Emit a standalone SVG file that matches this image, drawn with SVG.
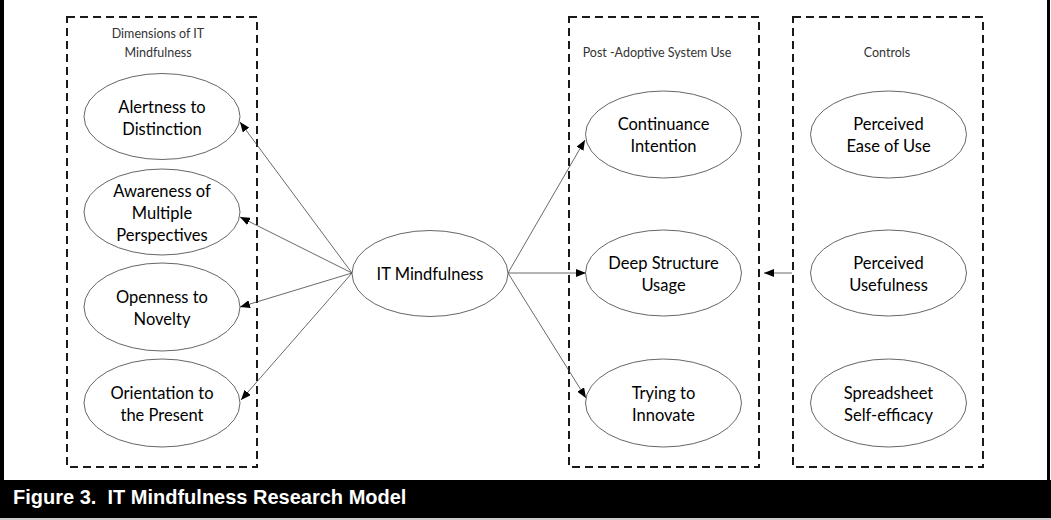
<svg xmlns="http://www.w3.org/2000/svg" width="1051" height="520" viewBox="0 0 1051 520">
<style>
.frame{fill:#000}
.box{fill:none;stroke:#1a1a1a;stroke-width:2;stroke-dasharray:8 5}
.node ellipse{fill:#fff;stroke:#555;stroke-width:0.9}
.lbl{font-family:Lato,"Open Sans",sans-serif;font-size:16.5px;fill:#000;text-anchor:middle}
.hdr{font-family:Lato,"Open Sans",sans-serif;font-size:12.5px;fill:#333;text-anchor:middle}
.edge{stroke:#444;stroke-width:0.8;fill:none;marker-end:url(#arr)}
.cap{font-family:"Liberation Sans",Arial,sans-serif;font-weight:bold;font-size:20px;fill:#fff;white-space:pre}
</style>
<defs>
<marker id="arr" markerUnits="userSpaceOnUse" markerWidth="10" markerHeight="8" refX="10" refY="4" orient="auto">
<path d="M0,0 L10,4 L0,8 z" fill="#000"/>
</marker>
</defs>
<rect x="0" y="0" width="1051" height="520" fill="#fff"/>
<rect class="frame" x="0" y="0" width="4" height="480"/>
<rect class="frame" x="1047" y="0" width="3" height="480"/>
<rect class="frame" x="0" y="480" width="1051" height="38"/>
<rect x="0" y="518" width="1051" height="2" fill="#ccc"/>
<text class="cap" x="13" y="504" xml:space="preserve">Figure 3.  IT Mindfulness Research Model</text>

<g id="groups">
<rect class="box" x="67" y="17" width="190" height="450"/>
<rect class="box" x="569" y="17" width="190" height="450"/>
<rect class="box" x="793" y="17" width="190" height="450"/>
<text class="hdr" x="158" y="38">Dimensions of IT</text>
<text class="hdr" x="158" y="57">Mindfulness</text>
<text class="hdr" x="657" y="57">Post -Adoptive System Use</text>
<text class="hdr" x="887" y="57">Controls</text>
</g>

<g id="connectors">
<line class="edge" x1="352" y1="273" x2="240" y2="122"/>
<line class="edge" x1="352" y1="273" x2="240" y2="217"/>
<line class="edge" x1="352" y1="273" x2="240" y2="307"/>
<line class="edge" x1="352" y1="273" x2="241" y2="400"/>
<line class="edge" x1="508" y1="273" x2="585" y2="140"/>
<line class="edge" x1="508" y1="273" x2="586" y2="273"/>
<line class="edge" x1="508" y1="273" x2="586" y2="398"/>
<line class="edge" x1="792" y1="273" x2="764" y2="273"/>
</g>

<g id="alertness" class="node">
<ellipse cx="162" cy="116.5" rx="78" ry="43"/>
<text class="lbl" x="162" y="112.5">Alertness to</text>
<text class="lbl" x="162" y="135">Distinction</text>
</g>
<g id="awareness" class="node">
<ellipse cx="162" cy="212" rx="78" ry="43"/>
<text class="lbl" x="162" y="196.5">Awareness of</text>
<text class="lbl" x="162" y="218.5">Multiple</text>
<text class="lbl" x="162" y="240.5">Perspectives</text>
</g>
<g id="openness" class="node">
<ellipse cx="162" cy="307" rx="78" ry="44"/>
<text class="lbl" x="162" y="303">Openness to</text>
<text class="lbl" x="162" y="325">Novelty</text>
</g>
<g id="orientation" class="node">
<ellipse cx="162" cy="403" rx="78" ry="44"/>
<text class="lbl" x="162" y="399">Orientation to</text>
<text class="lbl" x="162" y="421">the Present</text>
</g>
<g id="it-mindfulness" class="node">
<ellipse cx="430" cy="273.5" rx="78" ry="43"/>
<text class="lbl" x="430" y="280">IT Mindfulness</text>
</g>
<g id="continuance" class="node">
<ellipse cx="663.5" cy="134.5" rx="78" ry="43.5"/>
<text class="lbl" x="663.5" y="130">Continuance</text>
<text class="lbl" x="663.5" y="152">Intention</text>
</g>
<g id="deep-structure" class="node">
<ellipse cx="663.5" cy="273" rx="78" ry="43"/>
<text class="lbl" x="663.5" y="268.5">Deep Structure</text>
<text class="lbl" x="663.5" y="290.5">Usage</text>
</g>
<g id="trying" class="node">
<ellipse cx="663.5" cy="403" rx="78" ry="44"/>
<text class="lbl" x="663.5" y="398.5">Trying to</text>
<text class="lbl" x="663.5" y="421">Innovate</text>
</g>
<g id="ease-of-use" class="node">
<ellipse cx="888.5" cy="134.5" rx="78" ry="43.5"/>
<text class="lbl" x="888.5" y="130">Perceived</text>
<text class="lbl" x="888.5" y="152">Ease of Use</text>
</g>
<g id="usefulness" class="node">
<ellipse cx="888.5" cy="273" rx="78" ry="43"/>
<text class="lbl" x="888.5" y="268.5">Perceived</text>
<text class="lbl" x="888.5" y="290.5">Usefulness</text>
</g>
<g id="self-efficacy" class="node">
<ellipse cx="888.5" cy="403" rx="78" ry="44"/>
<text class="lbl" x="888.5" y="398.5">Spreadsheet</text>
<text class="lbl" x="888.5" y="421">Self-efficacy</text>
</g>
</svg>
